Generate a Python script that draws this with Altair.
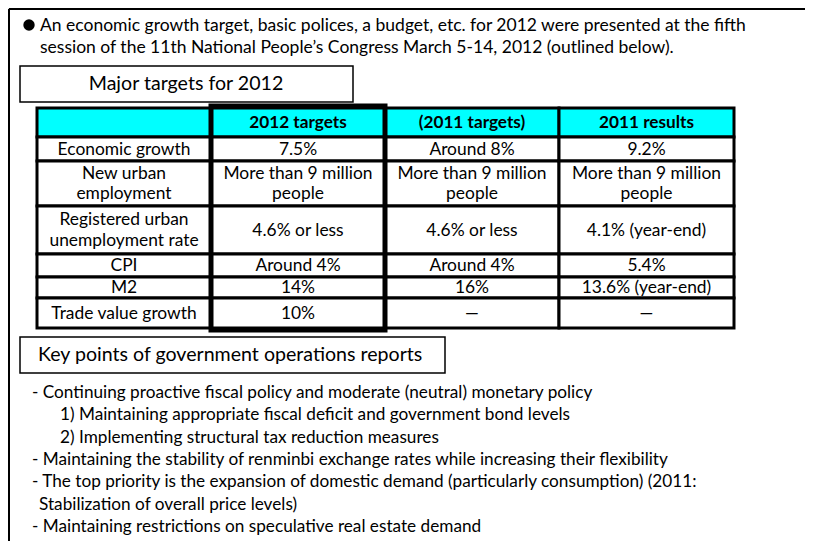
import altair as alt
import pandas as pd

# ---------------- data ----------------
intro_lines = [
    "An economic growth target, basic polices, a budget, etc. for 2012 were presented at the fifth",
    "session of the 11th National People\u2019s Congress March 5-14, 2012 (outlined below).",
]
section_titles = ["Major targets for 2012", "Key points of government operations reports"]
col_headers = ["", "2012 targets", "(2011 targets)", "2011 results"]
row_labels = [
    "Economic growth",
    "New urban\nemployment",
    "Registered urban\nunemployment rate",
    "CPI",
    "M2",
    "Trade value growth",
]
targets_2012 = ["7.5%", "More than 9 million\npeople", "4.6% or less", "Around 4%", "14%", "10%"]
targets_2011 = ["Around 8%", "More than 9 million\npeople", "4.6% or less", "Around 4%", "16%", "\u2014"]
results_2011 = ["9.2%", "More than 9 million\npeople", "4.1% (year-end)", "5.4%", "13.6% (year-end)", "\u2014"]
key_points = [
    "- Continuing proactive fiscal policy and moderate (neutral) monetary policy",
    "1) Maintaining appropriate fiscal deficit and government bond levels",
    "2) Implementing structural tax reduction measures",
    "- Maintaining the stability of renminbi exchange rates while increasing their flexibility",
    "- The top priority is the expansion of domestic demand (particularly consumption) (2011:",
    "Stabilization of overall price levels)",
    "- Maintaining restrictions on speculative real estate demand",
]
key_point_kind = ["main", "sub", "sub", "main", "main", "cont", "main"]

# ---------------- layout (page pixel grid) ----------------
FONT = "Lato"
W, H = 797, 533
xs = alt.Scale(domain=[8, 8 + W])
ys = alt.Scale(domain=[8, 8 + H], reverse=True)

col_edges = [37, 211, 385, 559, 734]
row_edges = [108, 137, 161, 206, 254, 277, 298, 328]
LINE_GAP = 20.5


def X(f="x"):
    return alt.X(f"{f}:Q", scale=xs, axis=None)


def Y(f="y"):
    return alt.Y(f"{f}:Q", scale=ys, axis=None)


# table cells
columns = [row_labels, targets_2012, targets_2011, results_2011]
cells, texts = [], []
for c in range(4):
    cx = (col_edges[c] + col_edges[c + 1]) / 2
    cells.append(dict(x=col_edges[c], x2=col_edges[c + 1], y=row_edges[0], y2=row_edges[1], head=True))
    texts.append(dict(x=cx, y=(row_edges[0] + row_edges[1]) / 2 + 0.5, t=col_headers[c], head=True))
    for r in range(len(row_labels)):
        cells.append(dict(x=col_edges[c], x2=col_edges[c + 1], y=row_edges[r + 1], y2=row_edges[r + 2], head=False))
        parts = columns[c][r].split("\n")
        cy = (row_edges[r + 1] + row_edges[r + 2]) / 2 + 0.5
        for i, p in enumerate(parts):
            texts.append(dict(x=cx, y=cy + (i - (len(parts) - 1) / 2) * LINE_GAP, t=p, head=False))
cells_df = pd.DataFrame(cells)
texts_df = pd.DataFrame(texts)

cell_rects = alt.Chart(cells_df).mark_rect(stroke="black", strokeWidth=3).encode(
    x=X(), x2="x2:Q", y=Y(), y2="y2:Q",
    fill=alt.condition("datum.head", alt.value("#00FFFF"), alt.value("white")),
)
cell_body = alt.Chart(texts_df[~texts_df["head"]]).mark_text(
    font=FONT, fontSize=17.4, color="black", baseline="middle"
).encode(x=X(), y=Y(), text="t:N")
cell_head = alt.Chart(texts_df[texts_df["head"]]).mark_text(
    font=FONT, fontSize=17.2, fontWeight="bold", color="black", baseline="middle"
).encode(x=X(), y=Y(), text="t:N")

# thick outline around the 2012 targets column
thick_df = pd.DataFrame([dict(x=col_edges[1], x2=col_edges[2], y=row_edges[0] - 2, y2=row_edges[-1] + 2)])
thick = alt.Chart(thick_df).mark_rect(fill=None, stroke="black", strokeWidth=5).encode(
    x=X(), x2="x2:Q", y=Y(), y2="y2:Q")

# section title boxes
boxes_df = pd.DataFrame([
    dict(x=20, x2=353, y=66, y2=102, t=section_titles[0], tx=186, ty=84),
    dict(x=20, x2=445, y=337, y2=373, t=section_titles[1], tx=38, ty=355),
])
box_rects = alt.Chart(boxes_df).mark_rect(fill="white", stroke="black", strokeWidth=1.5).encode(
    x=X(), x2="x2:Q", y=Y(), y2="y2:Q")
box_t1 = alt.Chart(boxes_df.iloc[[0]]).mark_text(font=FONT, fontSize=19.6, align="center", baseline="middle",
                                                 color="black").encode(x=X("tx"), y=Y("ty"), text="t:N")
box_t2 = alt.Chart(boxes_df.iloc[[1]]).mark_text(font=FONT, fontSize=19.6, align="left", baseline="middle",
                                                 color="black").encode(x=X("tx"), y=Y("ty"), text="t:N")

# outer frame
frame_df = pd.DataFrame([dict(x=9, x2=8 + W, y=9, y2=9), dict(x=9, x2=9, y=9, y2=8 + H)])
frame = alt.Chart(frame_df).mark_rule(stroke="black", strokeWidth=2).encode(
    x=X(), x2="x2:Q", y=Y(), y2="y2:Q")

# intro bullet + text
bullet_df = pd.DataFrame([dict(x=29, y=25)])
bullet = alt.Chart(bullet_df).mark_circle(size=130, color="black", opacity=1).encode(x=X(), y=Y())
intro_df = pd.DataFrame([dict(x=40, y=25.5, t=intro_lines[0]), dict(x=40, y=47.5, t=intro_lines[1])])
intro = alt.Chart(intro_df).mark_text(font=FONT, fontSize=17.5, align="left", baseline="middle",
                                      color="black").encode(x=X(), y=Y(), text="t:N")

# key points
kx = {"main": 32, "sub": 60, "cont": 39}
kp_df = pd.DataFrame([dict(x=kx[k], y=393 + 22.3 * i, t=t)
                      for i, (t, k) in enumerate(zip(key_points, key_point_kind))])
kp = alt.Chart(kp_df).mark_text(font=FONT, fontSize=17.2, align="left", baseline="middle",
                                color="black").encode(x=X(), y=Y(), text="t:N")

chart = alt.layer(
    frame, bullet, intro, box_rects, box_t1, box_t2, cell_rects, thick, cell_head, cell_body, kp
).properties(width=W, height=H, padding=0, autosize=alt.AutoSizeParams(type="none")).configure_view(
    stroke=None
).configure(background="white")

chart.save("out.html", embed_options={"renderer": "svg", "actions": False})
